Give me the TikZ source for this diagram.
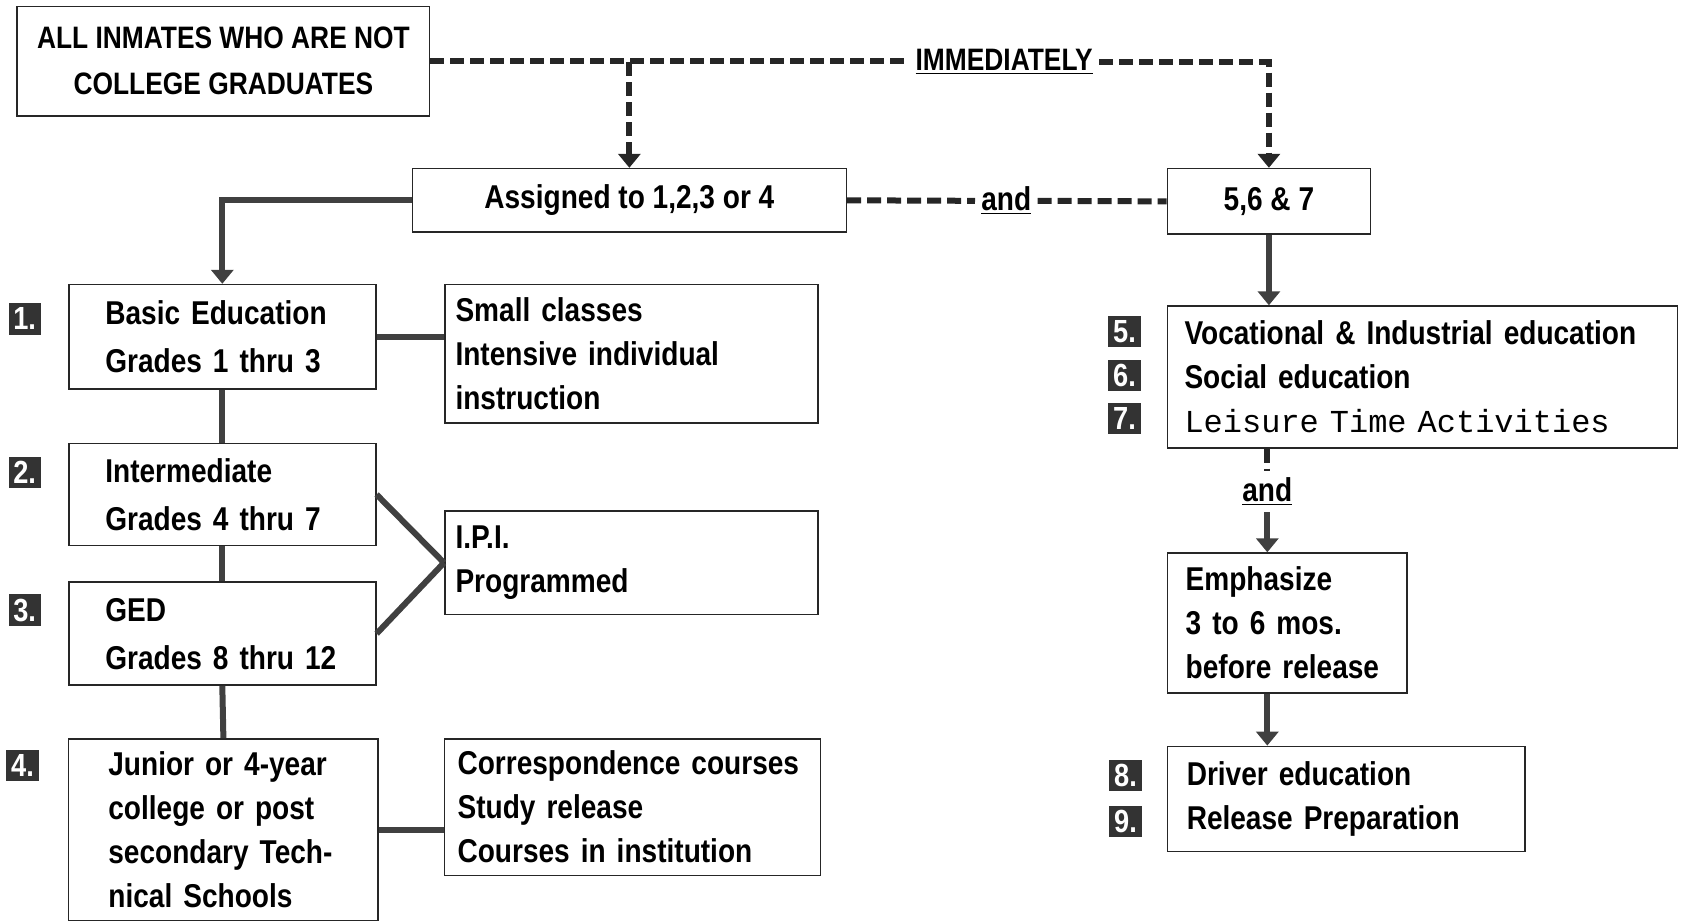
\documentclass[tikz,border=0pt]{standalone}
\usepackage{fontspec}
\setmainfont{Liberation Sans}[FakeStretch=0.85]
\setmonofont{Liberation Mono}
\usetikzlibrary{arrows.meta}
\newcommand{\ux}{0.537pt}

\begin{document}
\begin{tikzpicture}[x=\ux, y=-\ux,
    box/.style={draw=black!85, line width=0.8pt, align=left,
      font=\bfseries\fontsize{16.5}{22}\selectfont},
    grade/.style={box, inner xsep=34*\ux, text width=117pt,
      font=\bfseries\fontsize{16.5}{24}\selectfont},
    word/.style={font=\bfseries\fontsize{16.5}{18}\selectfont, inner sep=3pt},
    num/.style={fill=black!80, text=white, inner sep=0pt,
      minimum width=30*\ux, minimum height=29*\ux,
      font=\bfseries\fontsize{16}{16}\selectfont},
    dashline/.style={draw=black!85, line width=3pt, dash pattern=on 7pt off 3pt},
    solidline/.style={draw=black!75, line width=3pt},
    headed/.style={-{Triangle[width=11pt,length=7pt]}}]
\useasboundingbox (0,0) rectangle (1568,859);

%the top row
\node [box, align=center, font=\bfseries\fontsize{15.5}{23}\selectfont,
  minimum width=384*\ux, minimum height=102*\ux] (all) at (208,57)
  {ALL INMATES WHO ARE NOT\\COLLEGE GRADUATES};
\node [box, align=center, minimum width=404*\ux, minimum height=59*\ux] (assign) at (586,186.5) {Assigned to 1,2,3 or 4};
\node [box, align=center, minimum width=189*\ux, minimum height=61*\ux] (five) at (1181.5,187.5) {5,6 \& 7};
\node [word, font=\bfseries\fontsize{15.5}{18}\selectfont] (imm) at (935,58) {\underline{IMMEDIATELY}};
\node [word] (and1) at (937,187) {\underline{and}};

%the left column
\node [grade, minimum height=97*\ux] (basic) at (207,313.5) {Basic Education\\Grades 1 thru 3};
\node [grade, minimum height=95*\ux] (inter) at (207,460.5) {Intermediate\\Grades 4 thru 7};
\node [grade, minimum height=96*\ux] (ged) at (207,590) {GED\\Grades 8 thru 12};
\node [box, inner xsep=37*\ux, text width=115pt, minimum height=169*\ux] (junior) at (208,772.5)
  {Junior or 4-year\\college or post\\secondary Tech-\\nical Schools};

%the methods
\node [box, inner xsep=10*\ux, text width=176pt, minimum height=129*\ux] (small) at (588,329.5)
  {Small classes\\Intensive individual\\instruction};
\node [box, inner xsep=10*\ux, text width=176pt, minimum height=96*\ux] (ipi) at (588,524) {I.P.I.\\Programmed};
\node [box, inner xsep=12*\ux, text width=175pt, minimum height=127*\ux] (corr) at (589,751.5)
  {Correspondence courses\\Study release\\Courses in institution};

%the right column
\node [box, inner xsep=16*\ux, text width=238pt, minimum height=132*\ux] (voc) at (1324.5,351)
  {Vocational \& Industrial education\\Social education\\{\mdseries\ttfamily\fontsize{16}{22}\selectfont Leisure Time Activities}};
\node [word] (and2) at (1180,458) {\underline{and}};
\node [box, inner xsep=17*\ux, text width=101.5pt, minimum height=130*\ux] (emph) at (1198.5,580)
  {Emphasize\\3 to 6 mos.\\before release};
\node [box, inner xsep=18*\ux, text width=159.5pt, minimum height=98*\ux] (driver) at (1253.5,744)
  {Driver education\\Release Preparation};

%the numbers
\node [num] (n1) at (23,297) {1.};
\node [num] (n2) at (23,440) {2.};
\node [num] (n3) at (23,568) {3.};
\node [num] (n4) at (21,713) {4.};
\node [num] (n5) at (1047,309) {5.};
\node [num] (n6) at (1047,350) {6.};
\node [num] (n7) at (1047,390) {7.};
\node [num] (n8) at (1048,722) {8.};
\node [num] (n9) at (1048,765) {9.};

%the dashed connectors
\draw [dashline] (all.east) -- (all.east -| imm.west);
\draw [dashline, headed] (imm.east) -| (five.north);
\draw [dashline, headed] (assign.north |- imm.east) -- (assign.north);
\draw [dashline] (assign.east) -- (and1.west);
\draw [dashline] (and1.east) -- (five.west);
\draw [dashline] (and2 |- voc.south) -- (and2.north);

%the solid connectors
\draw [solidline, headed] (assign.west) -| (basic.north);
\draw [solidline] (basic.east) -- (basic.east -| small.west);
\draw [solidline] (basic.south) -- (inter.north);
\draw [solidline] (inter.south) -- (ged.north);
\draw [solidline] (ged.south) -- (junior.north);
\draw [solidline] (inter.east) -- (ipi.west);
\draw [solidline] (ged.east) -- (ipi.west);
\draw [solidline] (junior.east) -- (junior.east -| corr.west);
\draw [solidline, headed] (five.south) -- (five.south |- voc.north);
\draw [solidline, headed] (and2.south) -- (and2 |- emph.north);
\draw [solidline, headed] (and2 |- emph.south) -- (and2 |- driver.north);
\end{tikzpicture}
\end{document}
